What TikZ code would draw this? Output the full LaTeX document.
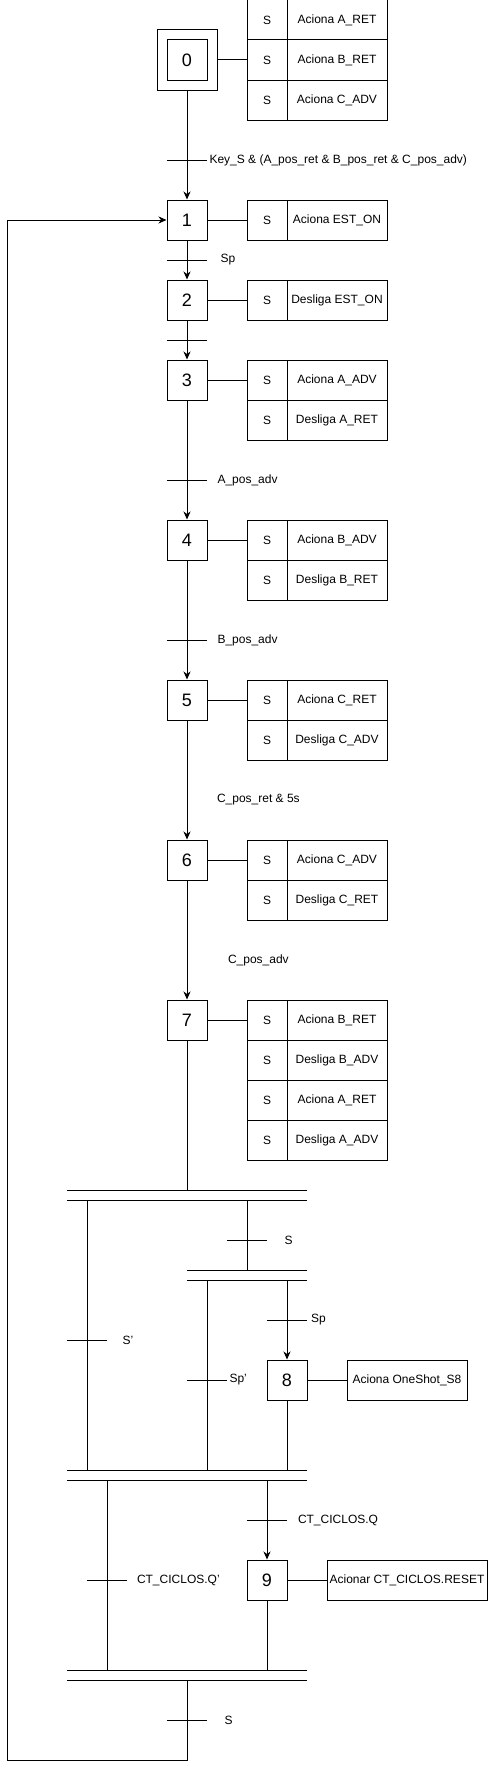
\documentclass[tikz,border=0pt]{standalone}
\usepackage{fontspec}
\setmainfont{Liberation Sans}
\usetikzlibrary{arrows.meta}
\begin{document}
\begin{tikzpicture}[x=1pt,y=-1pt, line width=1pt,
  stepbox/.style={draw, minimum size=40pt, inner sep=0pt, font=\fontsize{18}{20}\selectfont},
  initbox/.style={draw, minimum size=60pt, inner sep=0pt},
  scell/.style={draw, minimum width=40pt, minimum height=40pt, inner sep=0pt, font=\fontsize{12}{14}\selectfont},
  tcell/.style={draw, minimum width=100pt, minimum height=40pt, inner sep=0pt, font=\fontsize{12}{14}\selectfont},
  abox/.style={draw, minimum height=40pt, inner sep=0pt, font=\fontsize{12}{14}\selectfont},
  lbl/.style={anchor=west, inner sep=0pt, font=\fontsize{12}{14}\selectfont},
  arr/.style={-{Stealth[length=8pt,width=7pt,inset=2.5pt]}},
  bar/.style={line width=1pt}
]
\useasboundingbox (0,0) rectangle (488,1769);

% ---------- steps ----------
\node[stepbox] (s0) at (187,60) {0};
\node[initbox] (s0out) at (187,60) {};
\node[stepbox] (s1) at (187,220) {1};
\node[stepbox] (s2) at (187,300) {2};
\node[stepbox] (s3) at (187,380) {3};
\node[stepbox] (s4) at (187,540) {4};
\node[stepbox] (s5) at (187,700) {5};
\node[stepbox] (s6) at (187,860) {6};
\node[stepbox] (s7) at (187,1020) {7};
\node[stepbox] (s8) at (287,1380) {8};
\node[stepbox] (s9) at (267,1580) {9};

% ---------- action tables ----------
\node[scell] (a0s1) at (267,20) {S};  \node[tcell] (a0t1) at (337,20) {Aciona A\_RET};
\node[scell] (a0s2) at (267,60) {S};  \node[tcell] (a0t2) at (337,60) {Aciona B\_RET};
\node[scell] (a0s3) at (267,100) {S}; \node[tcell] (a0t3) at (337,100) {Aciona C\_ADV};

\node[scell] (a1s1) at (267,220) {S}; \node[tcell] (a1t1) at (337,220) {Aciona EST\_ON};
\node[scell] (a2s1) at (267,300) {S}; \node[tcell] (a2t1) at (337,300) {Desliga EST\_ON};

\node[scell] (a3s1) at (267,380) {S}; \node[tcell] (a3t1) at (337,380) {Aciona A\_ADV};
\node[scell] (a3s2) at (267,420) {S}; \node[tcell] (a3t2) at (337,420) {Desliga A\_RET};

\node[scell] (a4s1) at (267,540) {S}; \node[tcell] (a4t1) at (337,540) {Aciona B\_ADV};
\node[scell] (a4s2) at (267,580) {S}; \node[tcell] (a4t2) at (337,580) {Desliga B\_RET};

\node[scell] (a5s1) at (267,700) {S}; \node[tcell] (a5t1) at (337,700) {Aciona C\_RET};
\node[scell] (a5s2) at (267,740) {S}; \node[tcell] (a5t2) at (337,740) {Desliga C\_ADV};

\node[scell] (a6s1) at (267,860) {S}; \node[tcell] (a6t1) at (337,860) {Aciona C\_ADV};
\node[scell] (a6s2) at (267,900) {S}; \node[tcell] (a6t2) at (337,900) {Desliga C\_RET};

\node[scell] (a7s1) at (267,1020) {S}; \node[tcell] (a7t1) at (337,1020) {Aciona B\_RET};
\node[scell] (a7s2) at (267,1060) {S}; \node[tcell] (a7t2) at (337,1060) {Desliga B\_ADV};
\node[scell] (a7s3) at (267,1100) {S}; \node[tcell] (a7t3) at (337,1100) {Aciona A\_RET};
\node[scell] (a7s4) at (267,1140) {S}; \node[tcell] (a7t4) at (337,1140) {Desliga A\_ADV};

\node[abox, minimum width=120pt] (a8) at (407,1380) {Aciona OneShot\_S8};
\node[abox, minimum width=160pt] (a9) at (407,1580) {Acionar CT\_CICLOS.RESET};

% step-to-action links
\draw (s0out.east) -- (a0s2.west);
\draw (s1.east) -- (a1s1.west);
\draw (s2.east) -- (a2s1.west);
\draw (s3.east) -- (a3s1.west);
\draw (s4.east) -- (a4s1.west);
\draw (s5.east) -- (a5s1.west);
\draw (s6.east) -- (a6s1.west);
\draw (s7.east) -- (a7s1.west);
\draw (s8.east) -- (a8.west);
\draw (s9.east) -- (a9.west);

% ---------- main sequence ----------
\draw[arr] (s0out.south) -- (s1.north);
\draw[arr] (s1.south) -- (s2.north);
\draw[arr] (s2.south) -- (s3.north);
\draw[arr] (s3.south) -- (s4.north);
\draw[arr] (s4.south) -- (s5.north);
\draw[arr] (s5.south) -- (s6.north);
\draw[arr] (s6.south) -- (s7.north);

% transitions in main sequence
\coordinate (t01) at (187,160);
\coordinate (t12) at (187,260);
\coordinate (t23) at (187,340);
\coordinate (t34) at (187,480);
\coordinate (t45) at (187,640);
\foreach \t in {t01,t12,t23,t34,t45}
  \draw ([xshift=-20pt]\t) -- ([xshift=20pt]\t);
\node[lbl] (l01) at (209,160) {Key\_S \& (A\_pos\_ret \& B\_pos\_ret \& C\_pos\_adv)};
\node[lbl] (l12) at (220,260) {Sp};
\node[lbl] (l34) at (217,480) {A\_pos\_adv};
\node[lbl] (l45) at (217,640) {B\_pos\_adv};
\node[lbl] (l56) at (216.5,800) {C\_pos\_ret \& 5s};
\node[lbl] (l67) at (227.5,960) {C\_pos\_adv};

% ---------- double bars ----------
\coordinate (bA1) at (67,1190);  \coordinate (bA2) at (307,1190);
\coordinate (bA3) at (67,1200);  \coordinate (bA4) at (307,1200);
\coordinate (bB1) at (187,1270); \coordinate (bB2) at (307,1270);
\coordinate (bB3) at (187,1280); \coordinate (bB4) at (307,1280);
\coordinate (bC1) at (67,1470);  \coordinate (bC2) at (307,1470);
\coordinate (bC3) at (67,1480);  \coordinate (bC4) at (307,1480);
\coordinate (bD1) at (67,1670);  \coordinate (bD2) at (307,1670);
\coordinate (bD3) at (67,1680);  \coordinate (bD4) at (307,1680);
\draw (bA1) -- (bA2); \draw (bA3) -- (bA4);
\draw (bB1) -- (bB2); \draw (bB3) -- (bB4);
\draw (bC1) -- (bC2); \draw (bC3) -- (bC4);
\draw (bD1) -- (bD2); \draw (bD3) -- (bD4);

% step 7 into first bar
\draw (s7.south) -- (s7 |- bA1);

% branch S'
\draw (87,1200) coordinate (jS1) -- (87,1470) coordinate (jS2);
\coordinate (tSq) at (87,1340);
\draw ([xshift=-20pt]tSq) -- ([xshift=20pt]tSq);
\node[lbl] (lSq) at (122,1340) {S'};

% branch S
\draw (247,1200) coordinate (jT1) -- (247,1270) coordinate (jT2);
\coordinate (tS) at (247,1240);
\draw ([xshift=-20pt]tS) -- ([xshift=20pt]tS);
\node[lbl] (lS) at (284,1240) {S};

% branch Sp'
\draw (207,1280) coordinate (jU1) -- (207,1470) coordinate (jU2);
\coordinate (tSpq) at (207,1380);
\draw ([xshift=-20pt]tSpq) -- ([xshift=20pt]tSpq);
\node[lbl] (lSpq) at (229,1380) {Sp'};

% branch Sp -> step 8
\coordinate (jV1) at (287,1280);
\draw[arr] (jV1) -- (s8.north);
\coordinate (tSp) at (287,1320);
\draw ([xshift=-20pt]tSp) -- ([xshift=20pt]tSp);
\node[lbl] (lSp) at (310.5,1320) {Sp};
\draw (s8.south) -- (s8 |- bC1);

% branch CT_CICLOS.Q'
\draw (107,1480) coordinate (jW1) -- (107,1670) coordinate (jW2);
\coordinate (tQq) at (107,1580);
\draw ([xshift=-20pt]tQq) -- ([xshift=20pt]tQq);
\node[lbl] (lQq) at (136.5,1580) {CT\_CICLOS.Q'};

% branch CT_CICLOS.Q -> step 9
\coordinate (jX1) at (267,1480);
\draw[arr] (jX1) -- (s9.north);
\coordinate (tQ) at (267,1520);
\draw ([xshift=-20pt]tQ) -- ([xshift=20pt]tQ);
\node[lbl] (lQ) at (297.5,1520) {CT\_CICLOS.Q};
\draw (s9.south) -- (s9 |- bD1);

% return to step 1
\coordinate (jY1) at (187,1680);
\coordinate (jY2) at (187,1760);
\coordinate (jY3) at (7,1760);
\coordinate (jY4) at (7,220);
\draw[arr] (jY1) -- (jY2) -- (jY3) -- (jY4) -- (s1.west);
\coordinate (tR) at (187,1720);
\draw ([xshift=-20pt]tR) -- ([xshift=20pt]tR);
\node[lbl] (lR) at (224,1720) {S};
\end{tikzpicture}
\end{document}
